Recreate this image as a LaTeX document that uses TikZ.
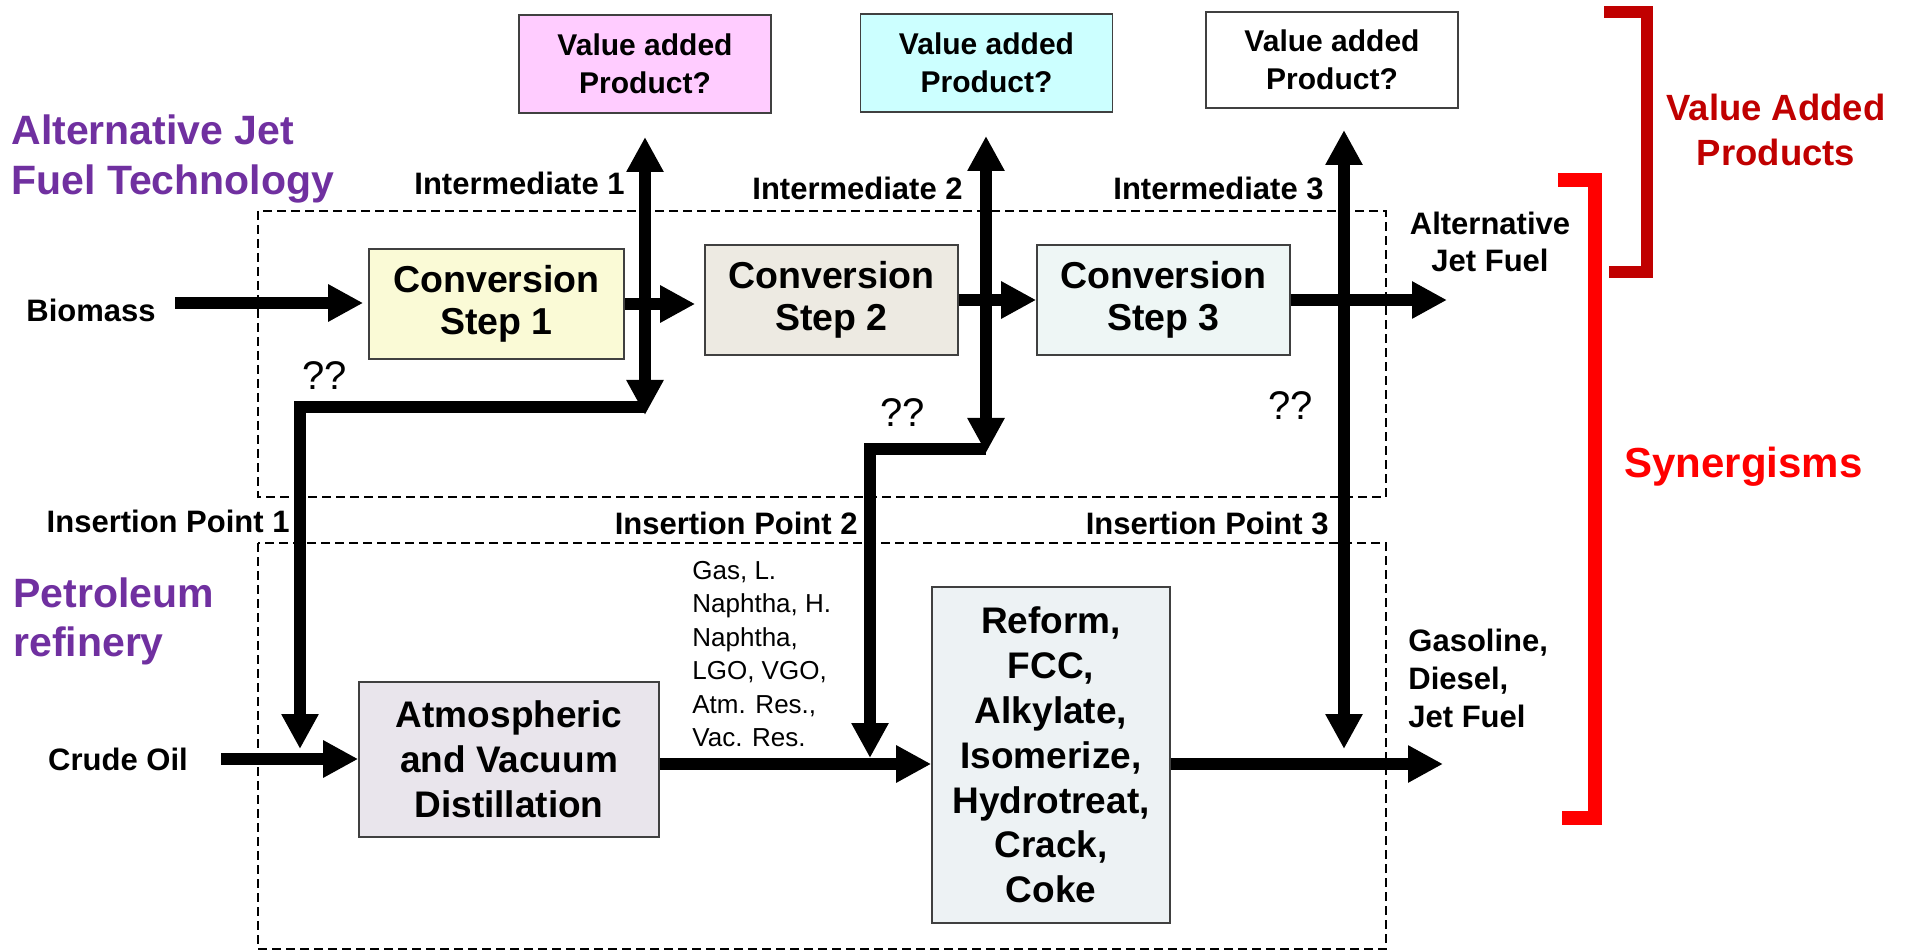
\documentclass[tikz,border=0pt]{standalone}
\usepackage{fontspec}
\setmainfont{Liberation Sans}
\usetikzlibrary{arrows.meta}

\definecolor{convA}{RGB}{250,250,214}
\definecolor{convB}{RGB}{237,234,226}
\definecolor{convC}{RGB}{238,246,245}
\definecolor{valA}{RGB}{255,204,255}
\definecolor{valB}{RGB}{204,255,255}
\definecolor{distil}{RGB}{233,229,236}
\definecolor{refine}{RGB}{237,242,244}
\definecolor{techpurple}{RGB}{112,48,160}
\definecolor{darkred}{RGB}{192,0,0}

\begin{document}
\begin{tikzpicture}[x = 0.5pt, y = -0.5pt]
      \tikzset{
        flow/.style = {line width = 6pt, -{Triangle[length = 17.5pt, width = 17.5pt]}},
        flowboth/.style = {line width = 6pt,
          {Triangle[length = 17.5pt, width = 17.5pt]}-{Triangle[length = 17.5pt, width = 17.5pt]}},
        unit/.style = {draw = black!75, line width = 0.8pt, inner sep = 0pt, align = center,
          font = \bfseries\fontsize{18.75}{21}\selectfont},
        valuebox/.style = {unit, minimum width = 126pt, minimum height = 49pt,
          font = \bfseries\fontsize{15}{19}\selectfont},
        lbl/.style = {font = \bfseries\fontsize{15.5}{18.5}\selectfont, inner sep = 0pt},
        qq/.style = {font = \fontsize{20}{24}\selectfont, inner sep = 0pt},
        zone/.style = {draw, line width = 0.8pt, dash pattern = on 4.5pt off 2.5pt},
        title/.style = {font = \bfseries\fontsize{20.5}{25}\selectfont, text = techpurple,
          align = left, inner sep = 0pt}
      }
      \useasboundingbox (0,0) rectangle (1908,952);

      % regions
      \draw[zone] (258,211) rectangle (1386,497);
      \draw[zone] (258,543) rectangle (1386,949);

      % process units
      \node[valuebox, fill = valA] (val1) at (645,64) {Value added\\Product?};
      \node[valuebox, fill = valB] (val2) at (986.5,63) {Value added\\Product?};
      \node[valuebox, fill = white, minimum height = 48pt] (val3) at (1332,60) {Value added\\Product?};
      \node[unit, fill = convA, minimum width = 127.5pt, minimum height = 55pt] (conv1) at (496.5,304) {Conversion\\Step 1};
      \node[unit, fill = convB, minimum width = 126.5pt, minimum height = 55pt] (conv2) at (831.5,300) {Conversion\\Step 2};
      \node[unit, fill = convC, minimum width = 126.5pt, minimum height = 55pt] (conv3) at (1163.5,300) {Conversion\\Step 3};
      \node[unit, fill = distil, minimum width = 150pt, minimum height = 77.5pt,
        font = \bfseries\fontsize{18.5}{22.5}\selectfont] (atm) at (509,759.5) {Atmospheric\\and Vacuum\\Distillation};
      \node[unit, fill = refine, minimum width = 119pt, minimum height = 168pt,
        font = \bfseries\fontsize{18.5}{22.4}\selectfont] (reform) at (1051,755)
        {Reform,\\FCC,\\Alkylate,\\Isomerize,\\Hydrotreat,\\Crack,\\Coke};

      % labels
      \node[title, anchor = north west] (alt) at (11,114) {Alternative Jet\\Fuel Technology};
      \node[title, anchor = north west, font = \bfseries\fontsize{20.5}{24.5}\selectfont] (pet) at (13,577) {Petroleum\\refinery};
      \node[lbl] (biomass) at (91,310) {Biomass};
      \node[lbl] (crude) at (118,759) {Crude Oil};
      \node[lbl, anchor = base east] (int1) at (625,195) {Intermediate 1};
      \node[lbl, anchor = base east] (int2) at (963,200) {Intermediate 2};
      \node[lbl, anchor = base east] (int3) at (1324,200) {Intermediate 3};
      \node[lbl, anchor = base east] (ip1) at (290,532) {Insertion Point 1};
      \node[lbl, anchor = base east] (ip2) at (858,534) {Insertion Point 2};
      \node[lbl, anchor = base east] (ip3) at (1329,534) {Insertion Point 3};
      \node[qq, anchor = base west] (q1) at (302,390) {??};
      \node[qq, anchor = base west] (q2) at (880,427) {??};
      \node[qq, anchor = base west] (q3) at (1268,420) {??};
      \node[lbl, anchor = north, align = center] (ajf) at (1490,212) {Alternative\\Jet Fuel};
      \node[lbl, anchor = north west, align = left, font = \bfseries\fontsize{15.5}{19}\selectfont] (fuels) at (1408,629)
        {Gasoline,\\Diesel,\\Jet Fuel};
      \node[anchor = north west, align = left, inner sep = 0pt, font = \fontsize{13}{16.7}\selectfont] (cuts) at (692,561)
        {Gas, L.\\Naphtha, H.\\Naphtha,\\LGO, VGO,\\Atm. Res.,\\Vac. Res.};
      \node[anchor = north, align = center, inner sep = 0pt, text = darkred,
        font = \bfseries\fontsize{18.25}{22.5}\selectfont] (vap) at (1776,94) {Value Added\\Products};
      \node[anchor = base west, inner sep = 0pt, text = red,
        font = \bfseries\fontsize{21}{25}\selectfont] (syn) at (1624,478) {Synergisms};

      % free ends
      \coordinate (bstart) at (175,303);
      \coordinate (cstart) at (221,759);
      \coordinate (jetout) at (1447,302);
      \coordinate (feed) at (0,764);
      \coordinate (fuelout) at (1443,764);
      \coordinate (up1) at (645,137);
      \coordinate (down1) at (645,415);
      \coordinate (drop1) at (645,407);
      \coordinate (in1) at (300,749);
      \coordinate (up2) at (986,136);
      \coordinate (down2) at (986,453);
      \coordinate (drop2) at (986,449);
      \coordinate (in2) at (870,758);
      \coordinate (up3) at (1344,130);
      \coordinate (down3) at (1344,749);

      % jet fuel route
      \draw[flow, shorten > = 2.5pt] (bstart) -- (conv1.west |- bstart);
      \draw[flow, shorten > = 4.5pt] (conv1.east) -- (conv1.east -| conv2.west);
      \draw[flow] (conv2.east) -- (conv2.east -| conv3.west);
      \draw[flow] (conv3.east) -- (conv3.east -| jetout);

      % refinery route
      \draw[flow] (cstart) -- (atm.west |- cstart);
      \draw[flow] (atm.east |- feed) -- (reform.west |- feed);
      \draw[flow] (reform.east |- fuelout) -- (fuelout);

      % intermediates and insertion points
      \draw[flowboth] (down1) -- (up1);
      \draw[flow] (drop1) -| (in1);
      \draw[flowboth] (down2) -- (up2);
      \draw[flow] (drop2) -| (in2);
      \draw[flowboth] (down3) -- (up3);

      % brackets
      \draw[red, line width = 7pt] (1558,180) -- (1595,180) -- (1595,818) -- (1562,818);
      \draw[darkred, line width = 6pt] (1604,12) -- (1647,12) -- (1647,272) -- (1609,272);
\end{tikzpicture}
\end{document}
